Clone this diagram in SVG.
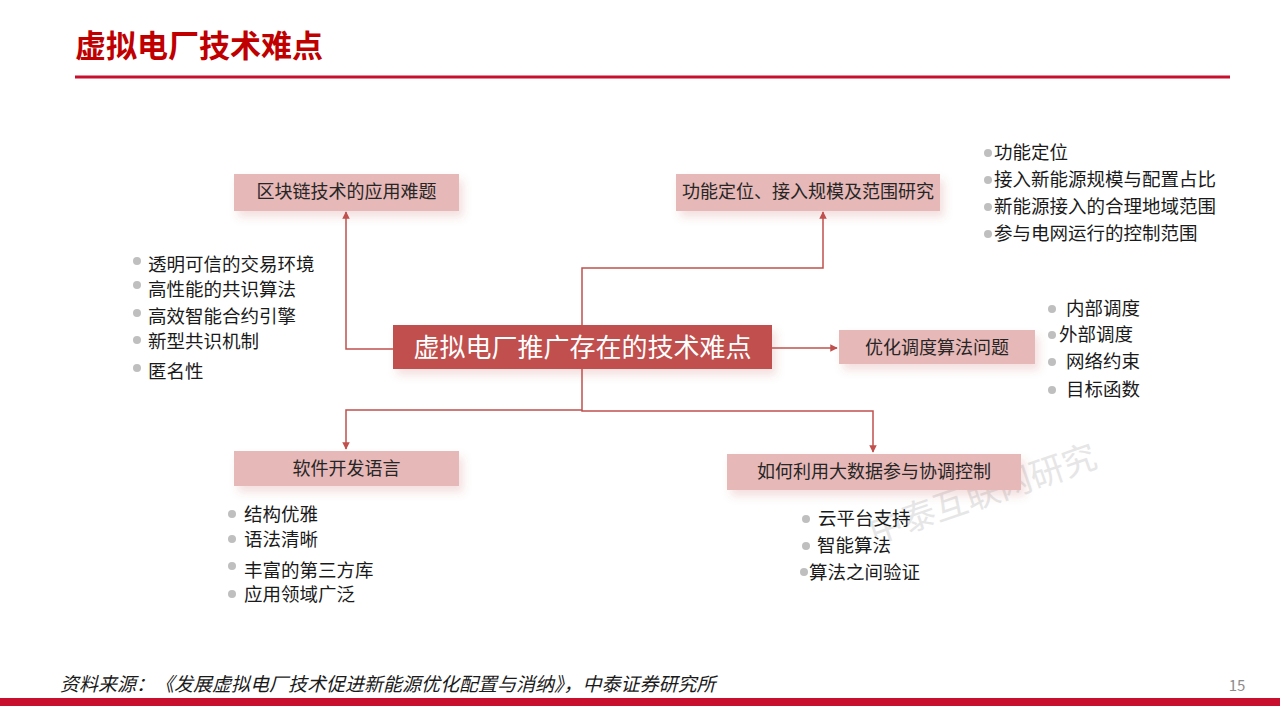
<svg xmlns="http://www.w3.org/2000/svg" width="1280" height="720" viewBox="0 0 1280 720">
<defs>
<style>
text{font-family:"Microsoft YaHei","Noto Sans CJK SC","Liberation Sans",sans-serif;}
.box{fill:#E6B8B7;filter:url(#sh);}
.lbl{font-size:18px;fill:#262626;text-anchor:middle;}
.bul{font-size:18.5px;fill:#1a1a1a;}
.dot{fill:#BFBFBF;}
.con{fill:none;stroke:#C0504D;stroke-width:1.5;}
</style>
<filter id="sh" x="-10%" y="-30%" width="130%" height="190%">
<feGaussianBlur in="SourceAlpha" stdDeviation="4"/>
<feOffset dx="4" dy="6" result="b"/>
<feFlood flood-color="#C0504D" flood-opacity="0.18"/>
<feComposite in2="b" operator="in"/>
<feMerge><feMergeNode/><feMergeNode in="SourceGraphic"/></feMerge>
</filter>
<marker id="arr" viewBox="0 0 10 10" refX="9" refY="5" markerWidth="5" markerHeight="5" orient="auto">
<path d="M0,0 L10,5 L0,10 z" fill="#C0504D"/>
</marker>
</defs>
<rect width="1280" height="720" fill="#FFFFFF"/>
<g id="title">
<text x="75" y="57" font-size="31" font-weight="bold" fill="#C00000">虚拟电厂技术难点</text>
<line x1="75" y1="77" x2="1230" y2="77" stroke="#C8102E" stroke-width="3"/>
</g>
<g id="watermark">
<text x="0" y="0" font-size="34" fill="#E6E6E6" transform="translate(874,544) rotate(-19)">中泰互联网研究</text>
</g>
<g id="connectors">
<polyline class="con" points="393,349 346,349 346,212" marker-end="url(#arr)"/>
<polyline class="con" points="582,325 582,268 823,268 823,212" marker-end="url(#arr)"/>
<polyline class="con" points="772,348 837,348" marker-end="url(#arr)"/>
<polyline class="con" points="582,369 582,410 346,410 346,449" marker-end="url(#arr)"/>
<polyline class="con" points="582,410 582,411 873,411 873,452" marker-end="url(#arr)"/>
</g>
<g id="center">
<rect x="393" y="325" width="379" height="44" fill="#C0504D" filter="url(#sh)"/>
<text x="582.5" y="357" font-size="26" fill="#FFFFFF" text-anchor="middle">虚拟电厂推广存在的技术难点</text>
</g>
<g id="n1">
<rect class="box" x="234" y="174" width="225" height="37"/>
<text class="lbl" x="346.5" y="198">区块链技术的应用难题</text>
</g>
<g id="n1-list">
<circle class="dot" cx="137" cy="261" r="4"/><text class="bul" x="148" y="271">透明可信的交易环境</text>
<circle class="dot" cx="137" cy="285" r="4"/><text class="bul" x="148" y="296">高性能的共识算法</text>
<circle class="dot" cx="137" cy="313" r="4"/><text class="bul" x="148" y="323">高效智能合约引擎</text>
<circle class="dot" cx="137" cy="340" r="4"/><text class="bul" x="148" y="348">新型共识机制</text>
<circle class="dot" cx="137" cy="368" r="4"/><text class="bul" x="148" y="378">匿名性</text>
</g>
<g id="n2">
<rect class="box" x="676" y="174" width="264" height="37"/>
<text class="lbl" x="808" y="198">功能定位、接入规模及范围研究</text>
</g>
<g id="n2-list">
<circle class="dot" cx="988" cy="153" r="4"/><text class="bul" x="994" y="159">功能定位</text>
<circle class="dot" cx="988" cy="180" r="4"/><text class="bul" x="994" y="186">接入新能源规模与配置占比</text>
<circle class="dot" cx="988" cy="207" r="4"/><text class="bul" x="994" y="213">新能源接入的合理地域范围</text>
<circle class="dot" cx="988" cy="234" r="4"/><text class="bul" x="994" y="240">参与电网运行的控制范围</text>
</g>
<g id="n3">
<rect class="box" x="839" y="330" width="196" height="34"/>
<text class="lbl" x="937" y="354">优化调度算法问题</text>
</g>
<g id="n3-list">
<circle class="dot" cx="1052" cy="309" r="4"/><text class="bul" x="1066" y="315">内部调度</text>
<circle class="dot" cx="1052" cy="335" r="4"/><text class="bul" x="1059" y="341">外部调度</text>
<circle class="dot" cx="1052" cy="362" r="4"/><text class="bul" x="1066" y="368">网络约束</text>
<circle class="dot" cx="1052" cy="390" r="4"/><text class="bul" x="1066" y="396">目标函数</text>
</g>
<g id="n4">
<rect class="box" x="234" y="451" width="225" height="35"/>
<text class="lbl" x="346.5" y="475">软件开发语言</text>
</g>
<g id="n4-list">
<circle class="dot" cx="232" cy="514" r="4"/><text class="bul" x="244" y="521">结构优雅</text>
<circle class="dot" cx="232" cy="539" r="4"/><text class="bul" x="244" y="546">语法清晰</text>
<circle class="dot" cx="232" cy="566" r="4"/><text class="bul" x="244" y="577">丰富的第三方库</text>
<circle class="dot" cx="232" cy="594" r="4"/><text class="bul" x="244" y="601">应用领域广泛</text>
</g>
<g id="n5">
<rect class="box" x="727" y="454" width="294" height="36"/>
<text class="lbl" x="874" y="478">如何利用大数据参与协调控制</text>
</g>
<g id="n5-list">
<circle class="dot" cx="806" cy="519" r="4"/><text class="bul" x="818" y="525">云平台支持</text>
<circle class="dot" cx="806" cy="546" r="4"/><text class="bul" x="817" y="552">智能算法</text>
<circle class="dot" cx="804" cy="572" r="4"/><text class="bul" x="809" y="579">算法之间验证</text>
</g>
<g id="footer">
<text x="60" y="691" font-size="19" font-style="italic" fill="#1a1a1a">资料来源：《发展虚拟电厂技术促进新能源优化配置与消纳》，中泰证券研究所</text>
<text x="1237" y="691" font-size="15" fill="#8C8C8C" text-anchor="middle">15</text>
<rect x="0" y="698" width="1280" height="8" fill="#C8102E"/>
</g>
</svg>
